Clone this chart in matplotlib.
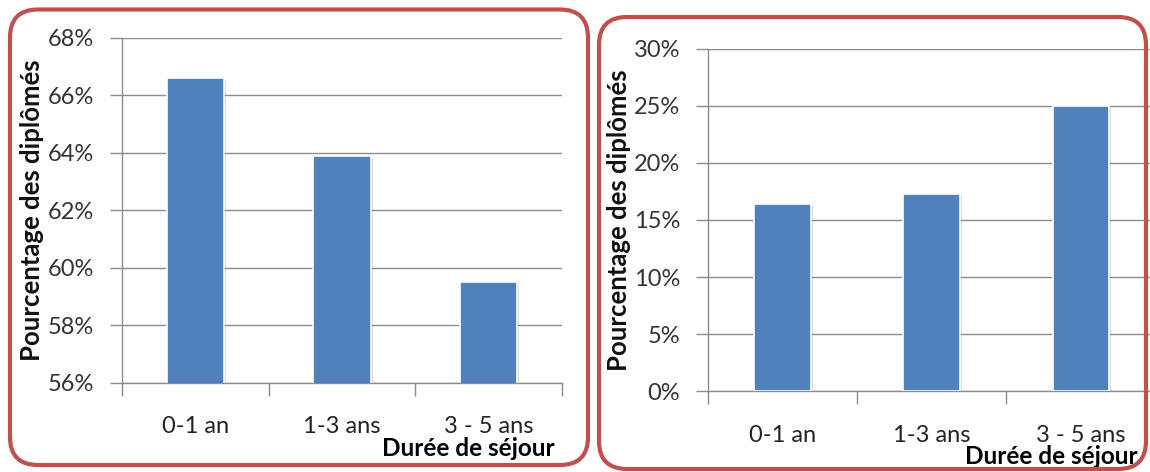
import matplotlib
matplotlib.use("Agg")
import matplotlib.pyplot as plt
import matplotlib.patheffects as pe
from matplotlib.patches import FancyBboxPatch
from matplotlib.ticker import FuncFormatter

plt.rcParams['font.family'] = ['Lato', 'DejaVu Sans']

# durée de séjour (categories)
categories = ["0-1 an", "1-3 ans", "3 - 5 ans"]

# pourcentage des diplômés, panneau gauche / panneau droit
left_values = [66.6, 63.9, 59.5]
right_values = [16.4, 17.3, 25.0]

left_ticks = [56, 58, 60, 62, 64, 66, 68]
right_ticks = [0, 5, 10, 15, 20, 25, 30]

W, H = 1150, 472
fig = plt.figure(figsize=(W / 100, H / 100), dpi=100)
fig.patch.set_facecolor("white")

BAR = "#4F81BD"
GRID = "#8C8C8C"
BORDER = "#C0504D"


def px(x0, y0, x1, y1):
    # pixel box (top-left origin) -> figure fraction rect
    return [x0 / W, (H - y1) / H, (x1 - x0) / W, (y1 - y0) / H]


def panel(rect, values, ticks, width, xpad, ypad):
    ax = fig.add_axes(rect)
    x = range(len(values))
    bars = ax.bar(x, values, width=width, color=BAR, edgecolor="white",
                  linewidth=1.2, zorder=3)
    for b in bars:
        b.set_path_effects([pe.SimplePatchShadow(offset=(1.5, -1.5),
                                                 shadow_rgbFace="#777777",
                                                 alpha=0.25),
                            pe.Normal()])
    ax.set_xlim(-0.5, len(values) - 0.5)
    ax.set_ylim(ticks[0], ticks[-1])
    ax.set_yticks(ticks)
    ax.yaxis.set_major_formatter(FuncFormatter(lambda v, p: "%d%%" % v))
    ax.grid(axis="y", color=GRID, linewidth=1.0, zorder=0)
    ax.set_axisbelow(True)

    ax.set_xticks(list(x))
    ax.set_xticklabels(categories)
    ax.set_xticks([i - 0.5 for i in range(len(values) + 1)], minor=True)
    ax.tick_params(axis="x", which="major", length=0, pad=xpad,
                   labelsize=17, labelcolor="#222222")
    ax.tick_params(axis="x", which="minor", length=9, width=1.0,
                   color=GRID, direction="out")
    ax.tick_params(axis="y", length=9, width=1.0, color=GRID,
                   direction="out", pad=ypad, labelsize=17,
                   labelcolor="#333333")

    for s in ("top", "right"):
        ax.spines[s].set_visible(False)
    for s in ("left", "bottom"):
        ax.spines[s].set_color(GRID)
        ax.spines[s].set_linewidth(1.0)
    ax.set_ylabel("Pourcentage des diplômés", fontsize=18.5,
                  fontweight="bold", color="#111111")
    return ax


axl = panel(px(122, 38, 562, 383), left_values, left_ticks, 0.39, 24, 11)
axr = panel(px(708, 48.5, 1155.5, 391.3), right_values, right_ticks, 0.38, 24, 11)
axl.yaxis.set_label_coords(-0.178, 0.5)
axr.yaxis.set_label_coords(-0.172, 0.5)

fig.text(555 / W, 1 - 448 / H, "Durée de séjour", ha="right", va="center",
         fontsize=17.5, fontweight="bold", color="black")
fig.text(1138 / W, 1 - 456 / H, "Durée de séjour", ha="right", va="center",
         fontsize=17.5, fontweight="bold", color="black")

# rounded frames around each chart
asp = W / H
for (x0, y0, w, h) in [(10 / W, 7 / H, 578 / W, 455.5 / H),
                       (599 / W, 3 / H, 547 / W, 452 / H)]:
    fig.patches.append(FancyBboxPatch((x0, y0), w, h,
                                      boxstyle="round,pad=0,rounding_size=%f" % (28 / W),
                                      mutation_aspect=asp,
                                      transform=fig.transFigure,
                                      facecolor="none", edgecolor=BORDER,
                                      linewidth=3, zorder=10))

fig.savefig("out.png", dpi=100)
